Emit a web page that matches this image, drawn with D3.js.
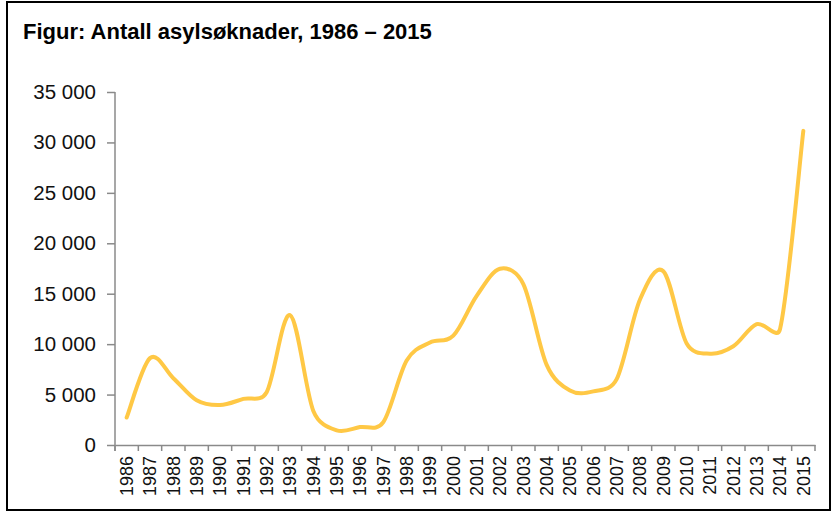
<!DOCTYPE html>
<html><head><meta charset="utf-8">
<script src="https://cdn.jsdelivr.net/npm/d3@7"></script>
<style>body{margin:0;background:#fff;} svg{display:block;}</style>
</head><body>
<svg id="c" width="833" height="515"></svg>
<script>
const years = ["1986","1987","1988","1989","1990","1991","1992","1993","1994","1995","1996","1997","1998","1999","2000","2001","2002","2003","2004","2005","2006","2007","2008","2009","2010","2011","2012","2013","2014","2015"];
const applications = [2722,8613,6622,4433,3962,4569,5238,12876,3379,1460,1778,2271,8374,10160,10842,14782,17480,15959,7945,5402,5320,6528,14431,17226,10064,9053,9785,11983,11480,31145];
const yTicks = [0,5000,10000,15000,20000,25000,30000,35000];
const title = "Figur: Antall asylsøknader, 1986 – 2015";

// Smoothed-line curve factory: Bezier smoothing with 1/6 tension,
// control handles capped at half of the adjacent segment length.
function smoothCurve(context) {
  let pts = [];
  return {
    areaStart(){}, areaEnd(){},
    lineStart(){ pts = []; },
    point(x, y){ pts.push([+x, +y]); },
    lineEnd(){
      const n = pts.length;
      if (!n) return;
      context.moveTo(pts[0][0], pts[0][1]);
      if (n === 1) return;
      const dist = (a,b)=>Math.hypot(b[0]-a[0], b[1]-a[1]);
      const d = []; for (let i=0;i<n-1;i++) d.push(dist(pts[i],pts[i+1]));
      const f = 1/6, cap = 0.5;
      const handle = (i, segLen) => {
        const a = pts[Math.max(0,i-1)], b = pts[Math.min(n-1,i+1)];
        let tx = (b[0]-a[0])*f, ty = (b[1]-a[1])*f;
        const L = Math.hypot(tx, ty), m = cap*segLen;
        if (L > m && L > 0) { tx *= m/L; ty *= m/L; }
        return [tx, ty];
      };
      for (let i=0;i<n-1;i++) {
        const p0 = pts[i], p1 = pts[i+1];
        const h0 = handle(i, d[i]), h1 = handle(i+1, d[i]);
        context.bezierCurveTo(p0[0]+h0[0], p0[1]+h0[1], p1[0]-h1[0], p1[1]-h1[1], p1[0], p1[1]);
      }
    }
  };
}

(function(){
const svg = d3.select("#c");
svg.append("rect").attr("x",7).attr("y",2).attr("width",823).attr("height",508)
  .attr("fill","#fff").attr("stroke","#000").attr("stroke-width",2);

svg.append("text").attr("x",23).attr("y",39).text(title)
  .attr("font-family","Liberation Sans, Arial, sans-serif").attr("font-weight","bold")
  .attr("font-size",22).attr("fill","#000");

const pL=115, pR=815, pT=92, pB=445;
const x = d3.scaleBand().domain(years).range([pL,pR]);
const y = d3.scaleLinear().domain([0,35000]).range([pB,pT]);
const fmt = d => d3.format(",")(d).replace(/,/g," ");

const axisColor = "#8a8a8a";
// y axis
const ya = svg.append("g").attr("transform",`translate(${pL},0)`)
  .call(d3.axisLeft(y).tickValues(yTicks).tickFormat(fmt).tickSize(8).tickSizeOuter(0).tickPadding(11));
ya.select(".domain").attr("stroke",axisColor).attr("stroke-width",1.5).attr("d",`M0,${pT}V${pB+6}`);
ya.selectAll(".tick line").attr("stroke",axisColor).attr("stroke-width",1.5);
ya.selectAll(".tick text").attr("font-family","Liberation Sans, Arial, sans-serif").attr("font-size",20.5).attr("fill","#111");

// x axis
const xa = svg.append("g").attr("transform",`translate(0,${pB})`)
  .call(d3.axisBottom(x).tickSize(0).tickSizeOuter(0));
xa.select(".domain").attr("stroke",axisColor).attr("stroke-width",1.5);
xa.selectAll(".tick text")
  .attr("font-family","Liberation Sans, Arial, sans-serif").attr("font-size",18).attr("fill","#111")
  .attr("transform","rotate(-90)").attr("text-anchor","end").attr("dy","0.35em").attr("x",-11).attr("y",0);
// boundary ticks
const bounds = years.map(d=>x(d)).concat([pR]);
xa.selectAll("line.bt").data(bounds).enter().append("line").attr("class","bt")
  .attr("x1",d=>d).attr("x2",d=>d).attr("y1",0).attr("y2",6)
  .attr("stroke",axisColor).attr("stroke-width",1.5);

// line
const line = d3.line().x((d,i)=>x(years[i])+x.bandwidth()/2).y(d=>y(d)).curve(smoothCurve);
svg.append("path").datum(applications).attr("d",line).attr("fill","none")
  .attr("stroke","#FFC845").attr("stroke-width",4).attr("stroke-linejoin","round").attr("stroke-linecap","round");
})();
</script>
</body></html>
